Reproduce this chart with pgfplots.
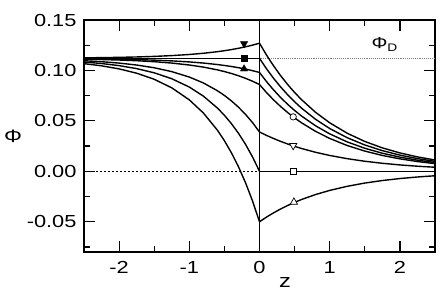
\documentclass[border=0pt]{standalone}
\usepackage{fontspec}
\setmainfont{Liberation Sans}[FakeStretch=1.25]
\usepackage{pgfplots}
\pgfplotsset{compat=1.18}
\begin{document}
\begin{tikzpicture}
\begin{axis}[
  name=ax,
  scale only axis,
  width=351bp, height=232bp,
  xmin=-2.5, xmax=2.5, ymin=-0.08, ymax=0.15,
  axis line style={line width=1.5pt},
  xtick={-2,-1,0,1,2},
  minor xtick={-2.5,-1.5,-0.5,0.5,1.5,2.5},
  ytick={-0.05,0,0.05,0.10,0.15},
  minor ytick={-0.075,-0.025,0.025,0.075,0.125},
  tick align=inside,
  major tick length=11bp,
  minor tick length=6bp,
  tick style={line width=1.2pt, black},
  xtick pos=both, ytick pos=both,
  /pgf/number format/assume math mode=true,
  yticklabel style={/pgf/number format/fixed, /pgf/number format/fixed zerofill, /pgf/number format/precision=2, xshift=-4bp},
  xticklabel style={/pgf/number format/fixed, /pgf/number format/precision=0, yshift=-6bp},
  tick label style={font=\fontsize{17.5}{20}\selectfont},
  xlabel={z},
  xlabel style={font=\fontsize{19}{22}\selectfont, at={(rel axis cs:0.573,0)}, anchor=north, yshift=-22bp},
  ylabel={\fontsize{18}{20}\selectfont Φ},
  ylabel style={rotate=-90, at={(rel axis cs:0,0.5)}, anchor=center, xshift=-71bp},
  clip=false,
  curve/.style={black, solid, line width=1.4pt, mark=none},
]
% reference lines
\addplot[black, dash pattern=on 2pt off 2pt, line width=0.6pt, mark=none] coordinates {(-2.5,0) (0,0)};
\addplot[gray, densely dotted, line width=0.9pt, mark=none] coordinates {(0,0.112) (2.5,0.112)};
\addplot[curve] coordinates {(0,-0.08) (0,0.15)};
% left curves (z<0)
\addplot[curve] coordinates {(-2.5,0.11249)(-2.25,0.11269)(-2,0.11297)(-1.75,0.11336)(-1.5,0.11392)(-1.25,0.11471)(-1,0.11581)(-0.8,0.11701)(-0.6,0.11859)(-0.5,0.11956)(-0.4,0.12067)(-0.3,0.12194)(-0.2,0.12341)(-0.1,0.12508)(0,0.127)};
\addplot[curve] coordinates {(-2.5,0.112)(0,0.112)};
\addplot[curve] coordinates {(-2.5,0.11154)(-2.25,0.11136)(-2,0.11110)(-1.75,0.11073)(-1.5,0.11021)(-1.25,0.10947)(-1,0.10844)(-0.8,0.10732)(-0.6,0.10585)(-0.5,0.10494)(-0.4,0.10391)(-0.3,0.10272)(-0.2,0.10136)(-0.1,0.09979)(0,0.098)};
\addplot[curve] coordinates {(-2.5,0.11115)(-2.25,0.11081)(-2,0.11032)(-1.75,0.10963)(-1.5,0.10867)(-1.25,0.10731)(-1,0.10539)(-0.8,0.10331)(-0.6,0.10057)(-0.5,0.09889)(-0.4,0.09697)(-0.3,0.09476)(-0.2,0.09223)(-0.1,0.08933)(0,0.086)};
\addplot[curve] coordinates {(-2.5,0.10962)(-2.25,0.10865)(-2,0.10729)(-1.75,0.10536)(-1.5,0.10265)(-1.25,0.09883)(-1,0.09345)(-0.8,0.08760)(-0.6,0.07991)(-0.5,0.07520)(-0.4,0.06980)(-0.3,0.06360)(-0.2,0.05649)(-0.1,0.04835)(0,0.039)};
\addplot[curve] coordinates {(-2.5,0.10835)(-2.25,0.10686)(-2,0.10477)(-1.75,0.10181)(-1.5,0.09765)(-1.25,0.09179)(-1,0.08353)(-0.8,0.07456)(-0.6,0.06276)(-0.5,0.05554)(-0.4,0.04725)(-0.3,0.03775)(-0.2,0.02684)(-0.1,0.01434)(0,0)};
\addplot[curve] coordinates {(-2.5,0.10673)(-2.25,0.10457)(-2,0.10154)(-1.75,0.09726)(-1.5,0.09125)(-1.25,0.08276)(-1,0.07083)(-0.8,0.05785)(-0.6,0.04078)(-0.5,0.03033)(-0.4,0.01834)(-0.3,0.00460)(-0.2,-0.01118)(-0.1,-0.02926)(0,-0.05)};
% right curves (z>0)
\addplot[curve] coordinates {(0,0.127)(0.1,0.11525)(0.2,0.10459)(0.3,0.09491)(0.4,0.08613)(0.5,0.07816)(0.6,0.07093)(0.8,0.05841)(1,0.04810)(1.25,0.03773)(1.5,0.02960)(1.75,0.02322)(2,0.01822)(2.25,0.01429)(2.5,0.01121)};
\addplot[curve] coordinates {(0,0.112)(0.1,0.10164)(0.2,0.09223)(0.3,0.08370)(0.4,0.07596)(0.5,0.06893)(0.6,0.06255)(0.8,0.05151)(1,0.04242)(1.25,0.03328)(1.5,0.02611)(1.75,0.02048)(2,0.01607)(2.25,0.01260)(2.5,0.00989)};
\addplot[curve] coordinates {(0,0.098)(0.1,0.08893)(0.2,0.08070)(0.3,0.07324)(0.4,0.06646)(0.5,0.06031)(0.6,0.05473)(0.8,0.04507)(1,0.03712)(1.25,0.02912)(1.5,0.02284)(1.75,0.01792)(2,0.01406)(2.25,0.01103)(2.5,0.00865)};
\addplot[curve] coordinates {(0,0.086)(0.1,0.07804)(0.2,0.07082)(0.3,0.06427)(0.4,0.05832)(0.5,0.05293)(0.6,0.04803)(0.8,0.03955)(1,0.03257)(1.25,0.02555)(1.5,0.02005)(1.75,0.01572)(2,0.01234)(2.25,0.00968)(2.5,0.00759)};
\addplot[curve] coordinates {(0,0.039)(0.1,0.03561)(0.2,0.03252)(0.3,0.02969)(0.4,0.02711)(0.5,0.02475)(0.6,0.02260)(0.8,0.01884)(1,0.01571)(1.25,0.01252)(1.5,0.00997)(1.75,0.00795)(2,0.00633)(2.25,0.00504)(2.5,0.00402)};
\addplot[curve] coordinates {(0,0)(2.5,0)};
\addplot[curve] coordinates {(0,-0.05)(0.1,-0.04537)(0.2,-0.04118)(0.3,-0.03737)(0.4,-0.03391)(0.5,-0.03077)(0.6,-0.02792)(0.8,-0.02300)(1,-0.01894)(1.25,-0.01486)(1.5,-0.01165)(1.75,-0.00914)(2,-0.00717)(2.25,-0.00563)(2.5,-0.00441)};
% markers
\addplot[black, only marks, mark=triangle*, mark size=4.2pt, mark options={rotate=180, fill=black, solid}] coordinates {(-0.22,0.1265)};
\addplot[black, only marks, mark=square*, mark size=3pt, mark options={fill=black, solid}] coordinates {(-0.22,0.112)};
\addplot[black, only marks, mark=triangle*, mark size=4.2pt, mark options={fill=black, solid}] coordinates {(-0.22,0.1015)};
\addplot[black, only marks, mark=*, mark size=3.2pt, mark options={fill=white, line width=0.7pt, solid}] coordinates {(0.48,0.054)};
\addplot[black, only marks, mark=triangle*, mark size=4.2pt, mark options={rotate=180, fill=white, line width=0.7pt, solid}] coordinates {(0.48,0.0255)};
\addplot[black, only marks, mark=square*, mark size=3pt, mark options={fill=white, line width=0.7pt, solid}] coordinates {(0.48,0)};
\addplot[black, only marks, mark=triangle*, mark size=4.2pt, mark options={fill=white, line width=0.7pt, solid}] coordinates {(0.49,-0.0305)};
\node[font=\fontsize{16}{18}\selectfont] at (axis cs:1.78,0.1255) {Φ\raisebox{-0.35ex}{\fontsize{11}{12}\selectfont D}};
\end{axis}
\pgfresetboundingbox
\path ([shift={(-84bp,-43bp)}]ax.south west) rectangle ([shift={(10bp,20bp)}]ax.north east);
\end{tikzpicture}
\end{document}
